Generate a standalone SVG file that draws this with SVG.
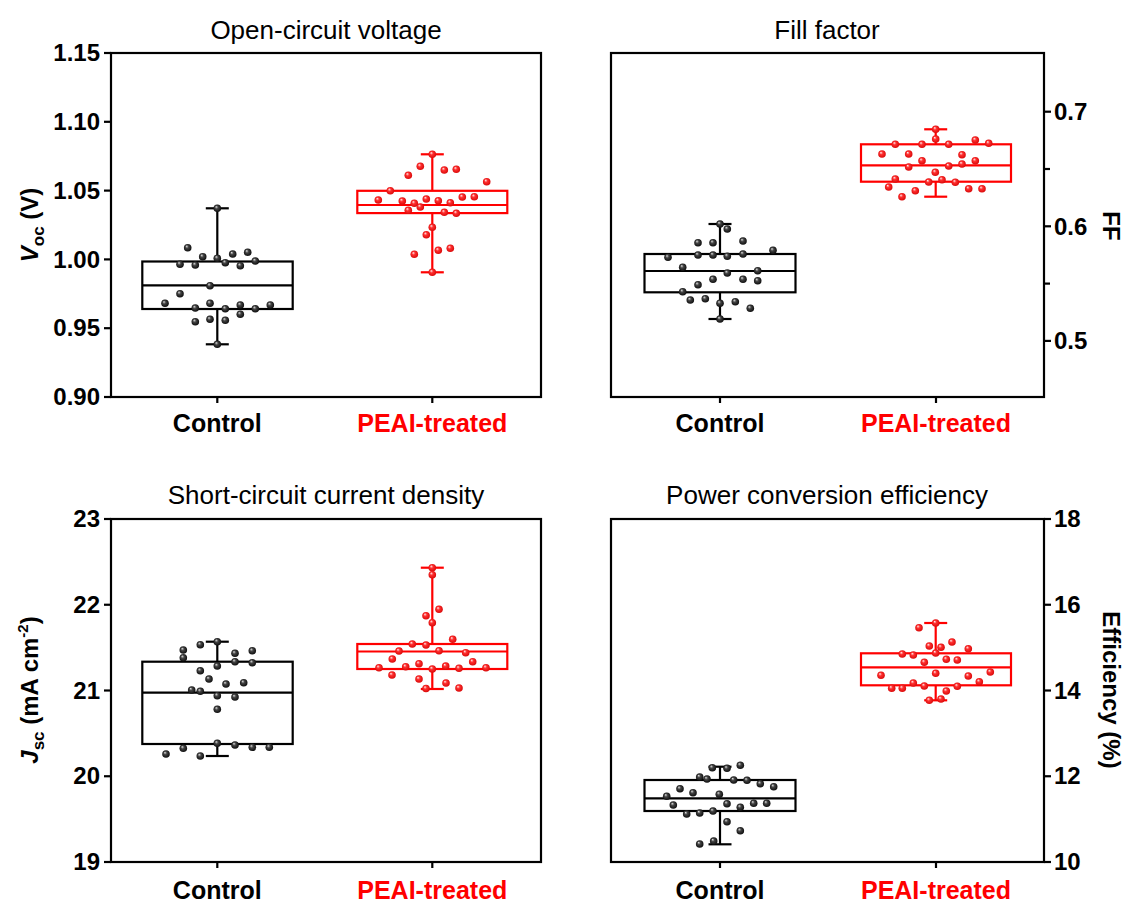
<svg xmlns="http://www.w3.org/2000/svg" width="1129" height="903" viewBox="0 0 1129 903">
<style>
.frame{fill:none;stroke:#000;stroke-width:2.2}
.tick{stroke:#000;stroke-width:2.2}
.bk{fill:none;stroke:#000;stroke-width:2.2}
.rd{fill:none;stroke:#ff0000;stroke-width:2.2}
.tl{font-family:"Liberation Sans",Arial,sans-serif;font-weight:bold;font-size:24px;fill:#000}
.cat{font-family:"Liberation Sans",Arial,sans-serif;font-weight:bold;font-size:25px}
.title{font-family:"Liberation Sans",Arial,sans-serif;font-size:26px;fill:#000;text-anchor:middle}
.ax{font-family:"Liberation Sans",Arial,sans-serif;font-weight:bold;font-size:24px;fill:#000;text-anchor:middle}
.db circle{fill:url(#gb)}
.dr circle{fill:url(#gr)}
</style>
<defs>
<radialGradient id="gb" cx="0.5" cy="0.5" r="0.6" fx="0.35" fy="0.3">
<stop offset="0" stop-color="#e0e0e0"/><stop offset="0.35" stop-color="#444"/><stop offset="1" stop-color="#000"/>
</radialGradient>
<radialGradient id="gr" cx="0.5" cy="0.5" r="0.6" fx="0.35" fy="0.3">
<stop offset="0" stop-color="#fff0f0"/><stop offset="0.35" stop-color="#ff3030"/><stop offset="1" stop-color="#d00000"/>
</radialGradient>
</defs>
<rect width="1129" height="903" fill="#fff"/>

<!-- Panel 1: Voc -->
<g id="panel-voc">
<text class="title" x="326" y="39">Open-circuit voltage</text>
<rect class="frame" x="111" y="53" width="430" height="344"/>
<g class="tick">
<line x1="104" y1="53" x2="111" y2="53"/><line x1="104" y1="121.8" x2="111" y2="121.8"/><line x1="104" y1="190.6" x2="111" y2="190.6"/><line x1="104" y1="259.4" x2="111" y2="259.4"/><line x1="104" y1="328.2" x2="111" y2="328.2"/><line x1="104" y1="397" x2="111" y2="397"/>
<line x1="217.3" y1="397" x2="217.3" y2="403"/><line x1="432.3" y1="397" x2="432.3" y2="403"/>
</g>
<g class="tl" text-anchor="end">
<text x="100" y="61">1.15</text><text x="100" y="130">1.10</text><text x="100" y="199">1.05</text><text x="100" y="268">1.00</text><text x="100" y="336">0.95</text><text x="100" y="405">0.90</text>
</g>
<text class="ax" transform="translate(38,225) rotate(-90)"><tspan font-style="italic">V</tspan><tspan font-size="17" dy="6">oc</tspan><tspan dy="-6"> (V)</tspan></text>
<text class="cat" x="217.3" y="432" text-anchor="middle" fill="#000">Control</text>
<text class="cat" x="432.3" y="432" text-anchor="middle" fill="#ff0000">PEAI-treated</text>
<g id="voc-control">
<g class="bk">
<rect x="142.3" y="261.5" width="150.4" height="47.5"/><line x1="142.3" y1="285.3" x2="292.7" y2="285.3"/>
<line x1="217.3" y1="261.5" x2="217.3" y2="208.3"/><line x1="205.8" y1="208.3" x2="228.8" y2="208.3"/>
<line x1="217.3" y1="309" x2="217.3" y2="344.3"/><line x1="205.8" y1="344.3" x2="228.8" y2="344.3"/>
</g>
<g class="db">
<circle cx="217.3" cy="208.3" r="3.8"/><circle cx="187.7" cy="247.7" r="3.8"/><circle cx="202.7" cy="256.7" r="3.8"/><circle cx="217.3" cy="258.3" r="3.8"/><circle cx="232.7" cy="254" r="3.8"/><circle cx="247.7" cy="252.3" r="3.8"/><circle cx="180" cy="264.3" r="3.8"/><circle cx="195.3" cy="265" r="3.8"/><circle cx="225.3" cy="262.7" r="3.8"/><circle cx="240.3" cy="265.7" r="3.8"/><circle cx="255.3" cy="261" r="3.8"/><circle cx="210" cy="285.7" r="3.8"/><circle cx="180" cy="293.7" r="3.8"/><circle cx="165" cy="303.3" r="3.8"/><circle cx="210" cy="303.3" r="3.8"/><circle cx="195.3" cy="308" r="3.8"/><circle cx="225.3" cy="308.7" r="3.8"/><circle cx="240.3" cy="305" r="3.8"/><circle cx="255.3" cy="308.7" r="3.8"/><circle cx="270.3" cy="305" r="3.8"/><circle cx="195.3" cy="321.7" r="3.8"/><circle cx="210" cy="319.3" r="3.8"/><circle cx="225.3" cy="320.3" r="3.8"/><circle cx="240.3" cy="314.3" r="3.8"/><circle cx="217.3" cy="344.3" r="3.8"/>
</g>
</g>
<g id="voc-peai">
<g class="rd">
<rect x="357.3" y="190.8" width="150" height="22.3"/><line x1="357.3" y1="205" x2="507.3" y2="205"/>
<line x1="432.3" y1="190.8" x2="432.3" y2="154.3"/><line x1="420.8" y1="154.3" x2="443.8" y2="154.3"/>
<line x1="432.3" y1="213.1" x2="432.3" y2="272.3"/><line x1="420.8" y1="272.3" x2="443.8" y2="272.3"/>
</g>
<g class="dr">
<circle cx="432.3" cy="154.3" r="3.8"/><circle cx="420.3" cy="166.3" r="3.8"/><circle cx="408.3" cy="175.3" r="3.8"/><circle cx="444.3" cy="170" r="3.8"/><circle cx="456.3" cy="169.3" r="3.8"/><circle cx="486.7" cy="181.7" r="3.8"/><circle cx="390.3" cy="190.7" r="3.8"/><circle cx="378.3" cy="200" r="3.8"/><circle cx="402.3" cy="201" r="3.8"/><circle cx="414.3" cy="203.3" r="3.8"/><circle cx="426.3" cy="199" r="3.8"/><circle cx="438.3" cy="200.7" r="3.8"/><circle cx="450.3" cy="202.7" r="3.8"/><circle cx="462.3" cy="197" r="3.8"/><circle cx="474.3" cy="196.7" r="3.8"/><circle cx="420.3" cy="207" r="3.8"/><circle cx="408.3" cy="210.3" r="3.8"/><circle cx="444.3" cy="212.3" r="3.8"/><circle cx="456.3" cy="213.3" r="3.8"/><circle cx="432.3" cy="227.3" r="3.8"/><circle cx="426.3" cy="234.7" r="3.8"/><circle cx="414.3" cy="254.3" r="3.8"/><circle cx="438.3" cy="250.3" r="3.8"/><circle cx="450.3" cy="248.3" r="3.8"/><circle cx="432.3" cy="272.3" r="3.8"/>
</g>
</g>
</g>

<!-- Panel 2: FF -->
<g id="panel-ff">
<text class="title" x="827" y="39">Fill factor</text>
<rect class="frame" x="611" y="53" width="433" height="344"/>
<g class="tick">
<line x1="1044" y1="111.7" x2="1051" y2="111.7"/><line x1="1044" y1="169" x2="1050" y2="169"/><line x1="1044" y1="226.3" x2="1051" y2="226.3"/><line x1="1044" y1="283.6" x2="1050" y2="283.6"/><line x1="1044" y1="340.9" x2="1051" y2="340.9"/>
<line x1="720" y1="397" x2="720" y2="403"/><line x1="936" y1="397" x2="936" y2="403"/>
</g>
<g class="tl" text-anchor="start">
<text x="1054" y="120">0.7</text><text x="1054" y="235">0.6</text><text x="1054" y="349">0.5</text>
</g>
<text class="ax" transform="translate(1103,226) rotate(90)">FF</text>
<text class="cat" x="720" y="432" text-anchor="middle" fill="#000">Control</text>
<text class="cat" x="936" y="432" text-anchor="middle" fill="#ff0000">PEAI-treated</text>
<g id="ff-control">
<g class="bk">
<rect x="644.5" y="254" width="151" height="38.3"/><line x1="644.5" y1="271" x2="795.5" y2="271"/>
<line x1="720" y1="254" x2="720" y2="224"/><line x1="708.5" y1="224" x2="731.5" y2="224"/>
<line x1="720" y1="292.3" x2="720" y2="319"/><line x1="708.5" y1="319" x2="731.5" y2="319"/>
</g>
<g class="db">
<circle cx="720" cy="224" r="3.8"/><circle cx="727.3" cy="229" r="3.8"/><circle cx="698" cy="242.7" r="3.8"/><circle cx="713" cy="242.7" r="3.8"/><circle cx="743" cy="241" r="3.8"/><circle cx="773" cy="250.3" r="3.8"/><circle cx="668" cy="257.3" r="3.8"/><circle cx="698" cy="255" r="3.8"/><circle cx="713" cy="255" r="3.8"/><circle cx="727.3" cy="256.3" r="3.8"/><circle cx="743" cy="254" r="3.8"/><circle cx="682.7" cy="267.3" r="3.8"/><circle cx="727.3" cy="273" r="3.8"/><circle cx="757.7" cy="270.7" r="3.8"/><circle cx="713" cy="279.3" r="3.8"/><circle cx="743" cy="279.3" r="3.8"/><circle cx="757.7" cy="280.7" r="3.8"/><circle cx="698" cy="284.7" r="3.8"/><circle cx="682.7" cy="291.7" r="3.8"/><circle cx="690.3" cy="300" r="3.8"/><circle cx="705.3" cy="298.7" r="3.8"/><circle cx="720" cy="303.3" r="3.8"/><circle cx="735.3" cy="301.7" r="3.8"/><circle cx="750.3" cy="308.3" r="3.8"/><circle cx="720" cy="319" r="3.8"/>
</g>
</g>
<g id="ff-peai">
<g class="rd">
<rect x="861" y="144.3" width="150" height="37.4"/><line x1="861" y1="165.3" x2="1011" y2="165.3"/>
<line x1="935.7" y1="144.3" x2="935.7" y2="129.3"/><line x1="924.2" y1="129.3" x2="947.2" y2="129.3"/>
<line x1="935.7" y1="181.7" x2="935.7" y2="196.7"/><line x1="924.2" y1="196.7" x2="947.2" y2="196.7"/>
</g>
<g class="dr">
<circle cx="935.7" cy="129.3" r="3.8"/><circle cx="935.7" cy="139" r="3.8"/><circle cx="895.3" cy="144.3" r="3.8"/><circle cx="922" cy="144.3" r="3.8"/><circle cx="948.7" cy="144.3" r="3.8"/><circle cx="975.3" cy="140" r="3.8"/><circle cx="988.7" cy="143.3" r="3.8"/><circle cx="882" cy="154" r="3.8"/><circle cx="908.7" cy="154" r="3.8"/><circle cx="962" cy="154.7" r="3.8"/><circle cx="922" cy="160.7" r="3.8"/><circle cx="975.3" cy="160.7" r="3.8"/><circle cx="908.7" cy="167" r="3.8"/><circle cx="948.7" cy="166" r="3.8"/><circle cx="962" cy="164" r="3.8"/><circle cx="935.3" cy="172.3" r="3.8"/><circle cx="895.3" cy="179" r="3.8"/><circle cx="928.7" cy="182" r="3.8"/><circle cx="942" cy="179.7" r="3.8"/><circle cx="955.3" cy="182.3" r="3.8"/><circle cx="888.7" cy="187" r="3.8"/><circle cx="915.3" cy="190.7" r="3.8"/><circle cx="902" cy="196.7" r="3.8"/><circle cx="968.7" cy="188.7" r="3.8"/><circle cx="982" cy="188.7" r="3.8"/>
</g>
</g>
</g>

<!-- Panel 3: Jsc -->
<g id="panel-jsc">
<text class="title" x="326" y="504">Short-circuit current density</text>
<rect class="frame" x="111" y="519" width="430" height="343"/>
<g class="tick">
<line x1="104" y1="519" x2="111" y2="519"/><line x1="104" y1="604.75" x2="111" y2="604.75"/><line x1="104" y1="690.5" x2="111" y2="690.5"/><line x1="104" y1="776.25" x2="111" y2="776.25"/><line x1="104" y1="862" x2="111" y2="862"/>
<line x1="217.3" y1="862" x2="217.3" y2="868"/><line x1="432.3" y1="862" x2="432.3" y2="868"/>
</g>
<g class="tl" text-anchor="end">
<text x="100" y="527">23</text><text x="100" y="613">22</text><text x="100" y="699">21</text><text x="100" y="784">20</text><text x="100" y="870">19</text>
</g>
<text class="ax" transform="translate(38,690) rotate(-90)"><tspan font-style="italic">J</tspan><tspan font-size="17" dy="6">sc</tspan><tspan dy="-6"> (mA cm</tspan><tspan font-size="15" dy="-10">-2</tspan><tspan dy="10">)</tspan></text>
<text class="cat" x="217.3" y="899" text-anchor="middle" fill="#000">Control</text>
<text class="cat" x="432.3" y="899" text-anchor="middle" fill="#ff0000">PEAI-treated</text>
<g id="jsc-control">
<g class="bk">
<rect x="142.3" y="661.7" width="150.4" height="82.3"/><line x1="142.3" y1="692.7" x2="292.7" y2="692.7"/>
<line x1="217.3" y1="661.7" x2="217.3" y2="641.7"/><line x1="205.8" y1="641.7" x2="228.8" y2="641.7"/>
<line x1="217.3" y1="744" x2="217.3" y2="756"/><line x1="205.8" y1="756" x2="228.8" y2="756"/>
</g>
<g class="db">
<circle cx="217.3" cy="641.7" r="3.8"/><circle cx="200.3" cy="644.7" r="3.8"/><circle cx="183.3" cy="650" r="3.8"/><circle cx="183.3" cy="657.7" r="3.8"/><circle cx="235" cy="653.3" r="3.8"/><circle cx="252.3" cy="650.7" r="3.8"/><circle cx="235" cy="661.7" r="3.8"/><circle cx="252.3" cy="662.7" r="3.8"/><circle cx="217.3" cy="666" r="3.8"/><circle cx="200.3" cy="670.7" r="3.8"/><circle cx="209" cy="679" r="3.8"/><circle cx="226" cy="684" r="3.8"/><circle cx="243.7" cy="682.7" r="3.8"/><circle cx="191.7" cy="690" r="3.8"/><circle cx="200.3" cy="691.3" r="3.8"/><circle cx="217.3" cy="695.7" r="3.8"/><circle cx="235" cy="697" r="3.8"/><circle cx="217.3" cy="709.3" r="3.8"/><circle cx="217.3" cy="743.3" r="3.8"/><circle cx="183.3" cy="748.3" r="3.8"/><circle cx="235" cy="745" r="3.8"/><circle cx="252.3" cy="747.3" r="3.8"/><circle cx="269.3" cy="747.3" r="3.8"/><circle cx="166" cy="754" r="3.8"/><circle cx="200.3" cy="756" r="3.8"/>
</g>
</g>
<g id="jsc-peai">
<g class="rd">
<rect x="357.3" y="644" width="150" height="25"/><line x1="357.3" y1="651.5" x2="507.3" y2="651.5"/>
<line x1="432.3" y1="644" x2="432.3" y2="567.7"/><line x1="420.8" y1="567.7" x2="443.8" y2="567.7"/>
<line x1="432.3" y1="669" x2="432.3" y2="689"/><line x1="420.8" y1="689" x2="443.8" y2="689"/>
</g>
<g class="dr">
<circle cx="432.3" cy="567.7" r="3.8"/><circle cx="432.3" cy="574.7" r="3.8"/><circle cx="439" cy="609.3" r="3.8"/><circle cx="426" cy="615.7" r="3.8"/><circle cx="432.3" cy="622.7" r="3.8"/><circle cx="452.7" cy="639.3" r="3.8"/><circle cx="412.3" cy="644" r="3.8"/><circle cx="426" cy="645" r="3.8"/><circle cx="399" cy="651" r="3.8"/><circle cx="439" cy="650.7" r="3.8"/><circle cx="465.7" cy="652.7" r="3.8"/><circle cx="392.3" cy="659" r="3.8"/><circle cx="419" cy="663.7" r="3.8"/><circle cx="472.7" cy="661.7" r="3.8"/><circle cx="379" cy="667.7" r="3.8"/><circle cx="405.7" cy="666.7" r="3.8"/><circle cx="432.3" cy="669" r="3.8"/><circle cx="445.7" cy="666" r="3.8"/><circle cx="459" cy="668.3" r="3.8"/><circle cx="486" cy="667.7" r="3.8"/><circle cx="392" cy="675" r="3.8"/><circle cx="419" cy="679" r="3.8"/><circle cx="446" cy="683" r="3.8"/><circle cx="426" cy="688.5" r="3.8"/><circle cx="459" cy="688" r="3.8"/>
</g>
</g>
</g>

<!-- Panel 4: Efficiency -->
<g id="panel-pce">
<text class="title" x="827" y="504">Power conversion efficiency</text>
<rect class="frame" x="611" y="519" width="433" height="343"/>
<g class="tick">
<line x1="1044" y1="519" x2="1051" y2="519"/><line x1="1044" y1="604.75" x2="1051" y2="604.75"/><line x1="1044" y1="690.5" x2="1051" y2="690.5"/><line x1="1044" y1="776.25" x2="1051" y2="776.25"/><line x1="1044" y1="862" x2="1051" y2="862"/>
<line x1="720" y1="862" x2="720" y2="868"/><line x1="936" y1="862" x2="936" y2="868"/>
</g>
<g class="tl" text-anchor="start">
<text x="1054" y="527">18</text><text x="1054" y="613">16</text><text x="1054" y="699">14</text><text x="1054" y="784">12</text><text x="1054" y="870">10</text>
</g>
<text class="ax" transform="translate(1103,690) rotate(90)">Efficiency (%)</text>
<text class="cat" x="720" y="899" text-anchor="middle" fill="#000">Control</text>
<text class="cat" x="936" y="899" text-anchor="middle" fill="#ff0000">PEAI-treated</text>
<g id="pce-control">
<g class="bk">
<rect x="644.5" y="780" width="151" height="31"/><line x1="644.5" y1="798.3" x2="795.5" y2="798.3"/>
<line x1="720" y1="780" x2="720" y2="766.7"/><line x1="708.5" y1="766.7" x2="731.5" y2="766.7"/>
<line x1="720" y1="811" x2="720" y2="844.3"/><line x1="708.5" y1="844.3" x2="731.5" y2="844.3"/>
</g>
<g class="db">
<circle cx="712.3" cy="767.7" r="3.8"/><circle cx="727" cy="768.3" r="3.8"/><circle cx="740.3" cy="765.3" r="3.8"/><circle cx="699.7" cy="777" r="3.8"/><circle cx="707" cy="779" r="3.8"/><circle cx="733.7" cy="780" r="3.8"/><circle cx="747" cy="780.3" r="3.8"/><circle cx="760.3" cy="783.7" r="3.8"/><circle cx="773.7" cy="786.7" r="3.8"/><circle cx="680" cy="788.7" r="3.8"/><circle cx="693" cy="792.7" r="3.8"/><circle cx="719.3" cy="794.3" r="3.8"/><circle cx="666.7" cy="796.3" r="3.8"/><circle cx="673.3" cy="805" r="3.8"/><circle cx="727" cy="803.7" r="3.8"/><circle cx="740.3" cy="807.3" r="3.8"/><circle cx="753.7" cy="803.3" r="3.8"/><circle cx="766.7" cy="803.3" r="3.8"/><circle cx="686.7" cy="814" r="3.8"/><circle cx="699.7" cy="813" r="3.8"/><circle cx="713" cy="811" r="3.8"/><circle cx="727" cy="821.7" r="3.8"/><circle cx="740.3" cy="830.7" r="3.8"/><circle cx="699.7" cy="844" r="3.8"/><circle cx="713.7" cy="841" r="3.8"/>
</g>
</g>
<g id="pce-peai">
<g class="rd">
<rect x="861" y="653.3" width="150" height="32"/><line x1="861" y1="667.3" x2="1011" y2="667.3"/>
<line x1="935.7" y1="653.3" x2="935.7" y2="623"/><line x1="924.2" y1="623" x2="947.2" y2="623"/>
<line x1="935.7" y1="685.3" x2="935.7" y2="700.3"/><line x1="924.2" y1="700.3" x2="947.2" y2="700.3"/>
</g>
<g class="dr">
<circle cx="935.7" cy="623" r="3.8"/><circle cx="919" cy="627.7" r="3.8"/><circle cx="929.3" cy="646" r="3.8"/><circle cx="941" cy="647.3" r="3.8"/><circle cx="952" cy="642" r="3.8"/><circle cx="968.3" cy="648.7" r="3.8"/><circle cx="902.3" cy="654" r="3.8"/><circle cx="913.3" cy="655" r="3.8"/><circle cx="935.7" cy="653" r="3.8"/><circle cx="924.3" cy="662.3" r="3.8"/><circle cx="946.3" cy="659.3" r="3.8"/><circle cx="957.3" cy="660" r="3.8"/><circle cx="881" cy="675.3" r="3.8"/><circle cx="935.7" cy="673.3" r="3.8"/><circle cx="968.3" cy="676" r="3.8"/><circle cx="990.3" cy="672" r="3.8"/><circle cx="979.3" cy="681.7" r="3.8"/><circle cx="891.7" cy="688.3" r="3.8"/><circle cx="902.3" cy="688.3" r="3.8"/><circle cx="913.3" cy="683" r="3.8"/><circle cx="924.3" cy="686" r="3.8"/><circle cx="957.3" cy="686.3" r="3.8"/><circle cx="946.3" cy="691" r="3.8"/><circle cx="929.3" cy="700.3" r="3.8"/><circle cx="941" cy="699" r="3.8"/>
</g>
</g>
</g>
<g id="connectors"/>
</svg>
